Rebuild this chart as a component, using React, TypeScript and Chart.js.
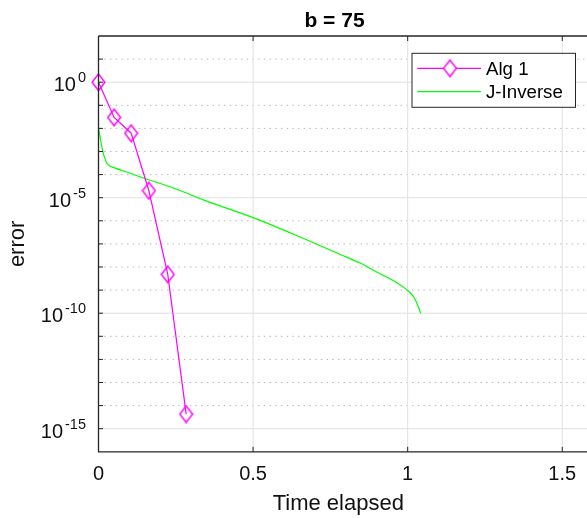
import React, { useEffect, useRef } from 'react';
import { Chart, registerables } from 'chart.js';

Chart.register(...registerables);

// ---- data ----
const alg1Time = [0, 0.0505, 0.1056, 0.163, 0.224, 0.2836];
const alg1Error = [1.0, 3.0e-2, 6.2e-3, 2.0e-5, 4.8e-9, 4.3e-15];

const jInvTime = [0, 0.005, 0.01, 0.018, 0.025, 0.031, 0.05, 0.1, 0.15, 0.247, 0.35, 0.5, 0.652, 0.781, 0.846, 0.91, 0.953, 0.997, 1.0075, 1.018, 1.027, 1.035, 1.042];
const jInvError = [9.55e-3, 4.47e-3, 1.78e-3, 6.3e-4, 3.55e-4, 2.69e-4, 2.0e-4, 1.17e-4, 6.8e-5, 2.5e-5, 7.1e-6, 1.38e-6, 2.0e-7, 3.55e-8, 1.48e-8, 5.1e-9, 2.6e-9, 1.05e-9, 7.9e-10, 5.4e-10, 3.3e-10, 1.8e-10, 1.0e-10];

const xTicks = [0, 0.5, 1, 1.5];
const xTickLabels = ['0', '0.5', '1', '1.5'];
const yMajorValues = [1, 1e-5, 1e-10, 1e-15];
const yMajorExponents = ['0', '-5', '-10', '-15'];
const yDecadeValues = [1e1, 1, 1e-1, 1e-2, 1e-3, 1e-4, 1e-5, 1e-6, 1e-7, 1e-8, 1e-9, 1e-10, 1e-11, 1e-12, 1e-13, 1e-14, 1e-15];

const titleText = 'b = 75';
const xTitle = 'Time elapsed';
const yTitle = 'error';
const seriesNames = ['Alg 1', 'J-Inverse'];
const seriesColors = ['#ff00ff', '#00ff00'];

const FONT = '"Liberation Sans", Arial, Helvetica, sans-serif';
const TEXT = '#111111';

function makeDiamond(fill: boolean): HTMLCanvasElement {
  const c = document.createElement('canvas');
  c.width = 15;
  c.height = 19;
  const g = c.getContext('2d')!;
  g.beginPath();
  g.moveTo(7.5, 1.2);
  g.lineTo(13.9, 9.5);
  g.lineTo(7.5, 17.8);
  g.lineTo(1.1, 9.5);
  g.closePath();
  if (fill) {
    g.fillStyle = '#ffffff';
    g.fill();
  }
  g.strokeStyle = seriesColors[0];
  g.lineWidth = 1.4;
  g.stroke();
  return c;
}

function makePlugin(legendDiamond: HTMLCanvasElement) {
  return {
    id: 'matlabLook',
    beforeDatasetsDraw(chart: any) {
      const { ctx, chartArea: a, scales } = chart;
      const x = scales.x;
      const y = scales.y;
      ctx.save();
      ctx.lineWidth = 1;
      yDecadeValues.forEach((v) => {
        const py = y.getPixelForValue(v);
        const major = yMajorValues.includes(v);
        ctx.beginPath();
        if (major) {
          ctx.setLineDash([]);
          ctx.strokeStyle = '#e0e0e0';
        } else {
          ctx.setLineDash([1.5, 4.2]);
          ctx.strokeStyle = '#b8b8b8';
        }
        ctx.moveTo(a.left, py);
        ctx.lineTo(a.right, py);
        ctx.stroke();
      });
      ctx.setLineDash([]);
      ctx.strokeStyle = '#e0e0e0';
      xTicks.forEach((v) => {
        if (v === 0) return;
        const px = x.getPixelForValue(v);
        ctx.beginPath();
        ctx.moveTo(px, a.top);
        ctx.lineTo(px, a.bottom);
        ctx.stroke();
      });
      ctx.restore();
    },
    afterDatasetsDraw(chart: any) {
      const { ctx, chartArea: a, scales } = chart;
      const x = scales.x;
      const y = scales.y;
      ctx.save();
      // axes box lines
      ctx.strokeStyle = '#262626';
      ctx.lineWidth = 1.3;
      ctx.beginPath();
      ctx.moveTo(a.left, a.top);
      ctx.lineTo(a.left, a.bottom);
      ctx.lineTo(a.right, a.bottom);
      ctx.moveTo(a.left, a.top);
      ctx.lineTo(a.right, a.top);
      ctx.stroke();
      // ticks (inward)
      ctx.lineWidth = 1;
      ctx.beginPath();
      xTicks.forEach((v) => {
        const px = x.getPixelForValue(v);
        ctx.moveTo(px, a.bottom);
        ctx.lineTo(px, a.bottom - 5);
        ctx.moveTo(px, a.top);
        ctx.lineTo(px, a.top + 5);
      });
      yDecadeValues.forEach((v) => {
        const py = y.getPixelForValue(v);
        ctx.moveTo(a.left, py);
        ctx.lineTo(a.left + 4.5, py);
      });
      ctx.stroke();

      // x tick labels
      ctx.fillStyle = TEXT;
      ctx.font = `20px ${FONT}`;
      ctx.textAlign = 'center';
      ctx.textBaseline = 'alphabetic';
      xTicks.forEach((v, i) => {
        ctx.fillText(xTickLabels[i], x.getPixelForValue(v), 480);
      });

      // y tick labels 10^n
      yMajorValues.forEach((v, i) => {
        const py = y.getPixelForValue(v);
        const right = a.left - 12.5;
        ctx.font = `14.5px ${FONT}`;
        ctx.textAlign = 'right';
        ctx.fillText(yMajorExponents[i], right, py + 0.2);
        const supW = ctx.measureText(yMajorExponents[i]).width;
        ctx.font = `20px ${FONT}`;
        ctx.fillText('10', right - supW - 2, py + 9.2);
      });

      // axis titles
      ctx.fillStyle = TEXT;
      ctx.font = `22px ${FONT}`;
      ctx.textAlign = 'center';
      ctx.fillText(xTitle, 338.3, 509.7);
      ctx.save();
      ctx.translate(23.5, (a.top + a.bottom) / 2);
      ctx.rotate(-Math.PI / 2);
      ctx.fillText(yTitle, 0, 0);
      ctx.restore();

      // title
      ctx.fillStyle = '#000000';
      ctx.font = `bold 21px ${FONT}`;
      ctx.fillText(titleText, 334.5, 26.7);

      // legend
      const lx = 412, ly = 53.3, lw = 163.5, lh = 54;
      ctx.fillStyle = '#ffffff';
      ctx.fillRect(lx, ly, lw, lh);
      ctx.strokeStyle = '#262626';
      ctx.lineWidth = 1;
      ctx.strokeRect(lx, ly, lw, lh);
      const rows = [68.3, 91.7];
      const bases = [75, 98.3];
      rows.forEach((ry, i) => {
        ctx.strokeStyle = seriesColors[i];
        ctx.lineWidth = 1.2;
        ctx.beginPath();
        ctx.moveTo(417.3, ry);
        ctx.lineTo(481, ry);
        ctx.stroke();
        if (i === 0) {
          ctx.drawImage(legendDiamond, 450 - legendDiamond.width / 2, ry - legendDiamond.height / 2);
        }
        ctx.fillStyle = '#000000';
        ctx.font = `18.7px ${FONT}`;
        ctx.textAlign = 'left';
        ctx.fillText(seriesNames[i], 486, bases[i]);
      });
      ctx.restore();
    },
  };
}

export default function App() {
  const ref = useRef<HTMLCanvasElement>(null);
  useEffect(() => {
    if (!ref.current) return;
    const plotDiamond = makeDiamond(false);
    const legendDiamond = makeDiamond(true);
    const chart = new Chart(ref.current, {
      type: 'line',
      data: {
        datasets: [
          {
            label: seriesNames[0],
            data: alg1Time.map((t, i) => ({ x: t, y: alg1Error[i] })),
            borderColor: seriesColors[0],
            backgroundColor: seriesColors[0],
            borderWidth: 1.2,
            pointStyle: plotDiamond as any,
            pointRadius: 8,
            tension: 0,
            clip: false as any,
            order: 1,
          },
          {
            label: seriesNames[1],
            data: jInvTime.map((t, i) => ({ x: t, y: jInvError[i] })),
            borderColor: seriesColors[1],
            backgroundColor: seriesColors[1],
            borderWidth: 1.2,
            pointRadius: 0,
            cubicInterpolationMode: 'monotone',
            order: 2,
          },
        ],
      },
      options: {
        responsive: false,
        animation: false,
        events: [],
        layout: { autoPadding: false, padding: { left: 98.5, top: 36, right: 0, bottom: 66.2 } },
        scales: {
          x: { type: 'linear', display: false, min: 0, max: 1.58 },
          y: { type: 'logarithmic', display: false, min: 1e-16, max: 1e2 },
        },
        plugins: {
          legend: { display: false },
          title: { display: false },
          tooltip: { enabled: false },
        },
      },
      plugins: [makePlugin(legendDiamond)],
    });
    return () => chart.destroy();
  }, []);
  return (
    <canvas
      ref={ref}
      width={587}
      height={518}
      style={{ position: 'fixed', left: 0, top: 0, width: 587, height: 518, display: 'block' }}
    />
  );
}
